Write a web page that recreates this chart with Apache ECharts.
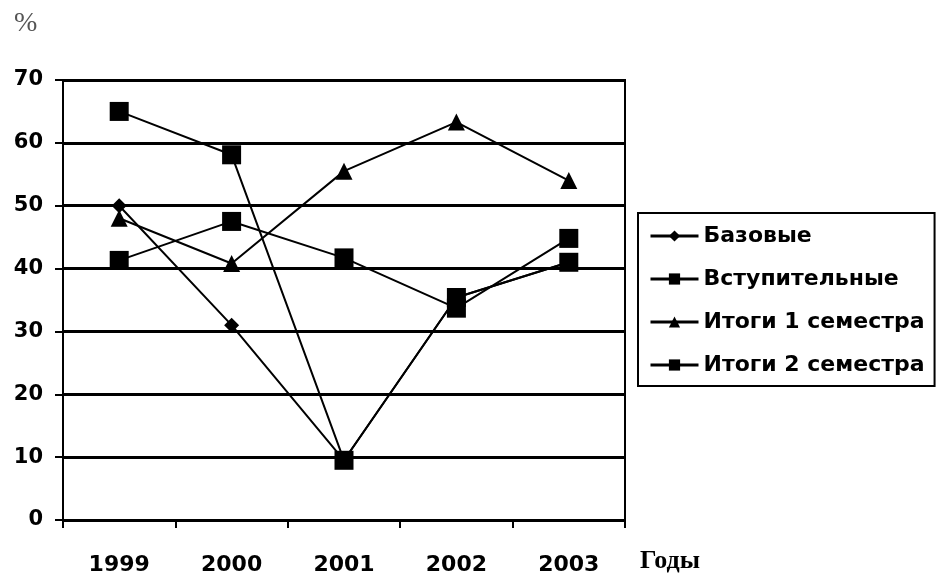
<!DOCTYPE html>
<html>
<head>
<meta charset="utf-8">
<script src="https://cdn.jsdelivr.net/npm/echarts@6/dist/echarts.min.js"></script>
<style>
html,body{margin:0;padding:0;background:#fff;}
#chart{width:937px;height:581px;}
</style>
</head>
<body>
<div id="chart"></div>
<script>
const years = ['1999', '2000', '2001', '2002', '2003'];
const seriesNames = ['Базовые', 'Вступительные', 'Итоги 1 семестра', 'Итоги 2 семестра'];
const bazovye = [50, 31, 9.5, 35.4, 41];
const vstupitelnye = [65, 58.1, 9.5, 35.4, 41];
const itogi1 = [48, 40.8, 55.5, 63.3, 54];
const itogi2 = [41.3, 47.5, 41.7, 33.7, 44.8];
const yTicks = [0, 10, 20, 30, 40, 50, 60, 70];

const values = [bazovye, vstupitelnye, itogi1, itogi2];
const symbols = ['diamond', 'rect', 'triangle', 'rect'];
const symbolSizes = [15, 19, 17, 19];

const chart = echarts.init(document.getElementById('chart'));
const boldFont = {color: '#000', fontFamily: 'DejaVu Sans, sans-serif', fontWeight: 'bold'};

chart.setOption({
  animation: false,
  backgroundColor: '#fff',
  grid: {left: 63, top: 80, width: 562, height: 440, show: true, borderColor: '#000', borderWidth: 2, backgroundColor: 'transparent'},
  xAxis: {
    type: 'category',
    data: years,
    boundaryGap: true,
    axisLine: {lineStyle: {color: '#000', width: 2}},
    axisTick: {show: true, length: 8, lineStyle: {color: '#000', width: 2}},
    axisLabel: Object.assign({margin: 34, fontSize: 22}, boldFont),
    splitLine: {show: false}
  },
  yAxis: {
    type: 'value',
    min: yTicks[0],
    max: yTicks[yTicks.length - 1],
    interval: 10,
    axisLine: {show: true, lineStyle: {color: '#000', width: 2}},
    axisTick: {show: true, length: 8, lineStyle: {color: '#000', width: 2}},
    axisLabel: Object.assign({margin: 20, fontSize: 21}, boldFont),
    splitLine: {show: true, lineStyle: {color: '#000', width: 3}}
  },
  legend: {
    orient: 'vertical',
    left: 638,
    top: 213,
    padding: [12, 10, 10, 11],
    itemWidth: 48,
    itemHeight: 14,
    itemGap: 21,
    borderColor: '#000',
    borderWidth: 2,
    backgroundColor: '#fff',
    lineStyle: {width: 3},
    textStyle: Object.assign({fontSize: 22, lineHeight: 22}, boldFont),
    data: seriesNames
  },
  series: seriesNames.map((name, i) => ({
    name: name,
    type: 'line',
    data: values[i],
    symbol: symbols[i],
    symbolSize: symbolSizes[i],
    showAllSymbol: true,
    itemStyle: {color: '#000'},
    lineStyle: {color: '#000', width: 2},
    z: 3 + i
  })),
  graphic: [
    {type: 'text', left: 14, top: 10, style: {text: '%', fontSize: 28, fontFamily: 'Liberation Serif, Times New Roman, serif', fill: '#555'}},
    {type: 'text', left: 640, top: 548, style: {text: 'Годы', fontSize: 26, fontWeight: 'bold', fontFamily: 'Liberation Serif, Times New Roman, serif', fill: '#000'}}
  ]
});
</script>
</body>
</html>
